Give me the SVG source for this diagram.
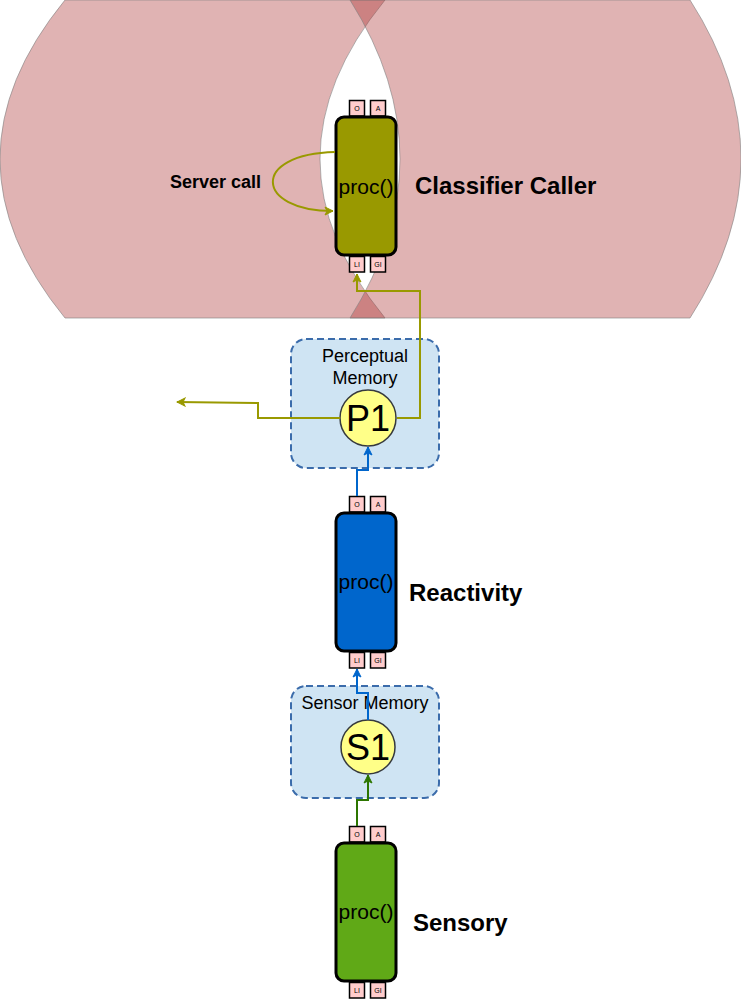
<svg xmlns="http://www.w3.org/2000/svg" width="741" height="999" viewBox="0 0 741 999">
<style>
.bg{fill:#a82929;fill-opacity:0.355;stroke:#808080;stroke-opacity:0.6;stroke-width:1}
.box{stroke:#000;stroke-width:3}
.port{fill:#ffcccc;stroke:#000;stroke-width:1.5}
.pt{font-family:"Liberation Sans",Arial,sans-serif;font-size:7px;text-anchor:middle;fill:#000}
.proc{font-family:"Liberation Sans",Arial,sans-serif;font-size:21px;text-anchor:middle;fill:#000}
.lbl{font-family:"Liberation Sans",Arial,sans-serif;font-size:24px;font-weight:bold;fill:#000}
.mem{fill:#cfe4f3;stroke:#3b6cab;stroke-width:2;stroke-dasharray:7 4}
.memt{font-family:"Liberation Sans",Arial,sans-serif;font-size:18px;text-anchor:middle;fill:#000}
.circ{fill:#ffff88;stroke:#36393d;stroke-width:1.5}
.ct{font-family:"Liberation Sans",Arial,sans-serif;font-size:36px;text-anchor:middle;fill:#000}
.c{fill:none;stroke-width:2}
</style>
<defs>
<marker id="ao" markerWidth="10" markerHeight="10" refX="9" refY="5" orient="auto" markerUnits="userSpaceOnUse"><path d="M1,1 L9,5 L1,9 L3,5 Z" fill="#999900" stroke="#999900"/></marker>
<marker id="ab" markerWidth="10" markerHeight="10" refX="9" refY="5" orient="auto" markerUnits="userSpaceOnUse"><path d="M1,1 L9,5 L1,9 L3,5 Z" fill="#0066cc" stroke="#0066cc"/></marker>
<marker id="ag" markerWidth="10" markerHeight="10" refX="9" refY="5" orient="auto" markerUnits="userSpaceOnUse"><path d="M1,1 L9,5 L1,9 L3,5 Z" fill="#2d7600" stroke="#2d7600"/></marker>
</defs>
<g id="background">
<path class="bg" d="M65,0 L385,0 Q255,159 385,318 L65,318 Q-65,159 65,0 Z"/>
<path class="bg" d="M350,0 L690,0 Q792,159 690,318 L350,318 Q450,159 350,0 Z"/>
</g>
<g id="classifier-caller">
<rect class="port" x="349.5" y="100.5" width="15" height="15.5"/>
<rect class="port" x="370.5" y="100.5" width="15" height="15.5"/>
<text class="pt" x="357" y="111">O</text>
<text class="pt" x="378" y="111">A</text>
<rect class="box" x="336" y="117" width="60" height="138" rx="8" fill="#999900"/>
<rect class="port" x="349.5" y="256.5" width="15" height="15.5"/>
<rect class="port" x="370.5" y="256.5" width="15" height="15.5"/>
<text class="pt" x="357" y="267">LI</text>
<text class="pt" x="378" y="267">GI</text>
<text class="proc" x="366" y="194">proc()</text>
<text class="lbl" x="415" y="194">Classifier Caller</text>
<text class="lbl" x="170" y="188" style="font-size:18px">Server call</text>
</g>
<g id="perceptual-memory">
<rect class="mem" x="291" y="339" width="148" height="129" rx="15"/>
<text class="memt" x="365" y="362">Perceptual</text>
<text class="memt" x="365" y="384">Memory</text>
<circle class="circ" cx="368" cy="418" r="28"/>
<text class="ct" x="368" y="431">P1</text>
</g>
<g id="reactivity">
<rect class="port" x="349.5" y="496.5" width="15" height="15.5"/>
<rect class="port" x="370.5" y="496.5" width="15" height="15.5"/>
<text class="pt" x="357" y="507">O</text>
<text class="pt" x="378" y="507">A</text>
<rect class="box" x="336" y="513" width="60" height="138" rx="8" fill="#0066cc"/>
<rect class="port" x="349.5" y="652.5" width="15" height="15.5"/>
<rect class="port" x="370.5" y="652.5" width="15" height="15.5"/>
<text class="pt" x="357" y="663">LI</text>
<text class="pt" x="378" y="663">GI</text>
<text class="proc" x="366" y="589">proc()</text>
<text class="lbl" x="409" y="601">Reactivity</text>
</g>
<g id="sensor-memory">
<rect class="mem" x="291" y="686" width="148" height="112" rx="15"/>
<text class="memt" x="365" y="709">Sensor Memory</text>
<circle class="circ" cx="368" cy="747" r="27"/>
<text class="ct" x="368" y="760">S1</text>
</g>
<g id="sensory">
<rect class="port" x="349.5" y="826.5" width="15" height="15.5"/>
<rect class="port" x="370.5" y="826.5" width="15" height="15.5"/>
<text class="pt" x="357" y="837">O</text>
<text class="pt" x="378" y="837">A</text>
<rect class="box" x="336" y="843" width="60" height="138" rx="8" fill="#60a917"/>
<rect class="port" x="349.5" y="982.5" width="15" height="15.5"/>
<rect class="port" x="370.5" y="982.5" width="15" height="15.5"/>
<text class="pt" x="357" y="993">LI</text>
<text class="pt" x="378" y="993">GI</text>
<text class="proc" x="366" y="919">proc()</text>
<text class="lbl" x="413" y="931">Sensory</text>
</g>
<g id="connectors">
<path class="c" stroke="#999900" d="M335,152 C250,154 255,211 333,211" marker-end="url(#ao)"/>
<path class="c" stroke="#999900" d="M397,418 L420,418 L420,291 L357,291 L357,274" marker-end="url(#ao)"/>
<path class="c" stroke="#999900" d="M340,418 L258,418 L258,403 L177,402" marker-end="url(#ao)"/>
<path class="c" stroke="#0066cc" d="M357,496 L357,470 L368,470 L368,447" marker-end="url(#ab)"/>
<path class="c" stroke="#0066cc" d="M368,720 L368,693 L357,693 L357,669" marker-end="url(#ab)"/>
<path class="c" stroke="#2d7600" d="M357,826 L357,800 L368,800 L368,775" marker-end="url(#ag)"/>
</g>
</svg>
